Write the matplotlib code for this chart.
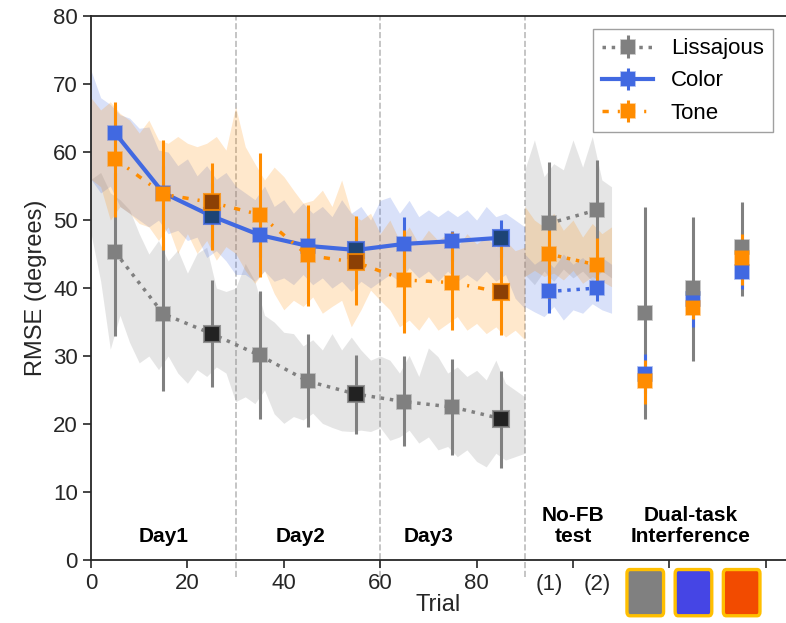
import matplotlib
matplotlib.use("Agg")
import matplotlib.pyplot as plt
from matplotlib.colors import to_rgba
from matplotlib.patches import FancyBboxPatch
import numpy as np

plt.rcParams["font.family"] = ["Liberation Sans", "DejaVu Sans"]

# ---- data ----
series = ["Lissajous", "Color", "Tone"]
colors = {"Lissajous": "gray", "Color": "royalblue", "Tone": "darkorange"}
dark = {"Lissajous": "#222222", "Color": "#1d4476", "Tone": "#8c4005"}
styles = {"Lissajous": ":", "Color": "-", "Tone": (0, (1.8, 2.6, 0.6, 2.6))}

# training blocks (3 days x 3 blocks)
block_x = [5, 15, 25, 35, 45, 55, 65, 75, 85]
mean = {
    "Lissajous": [45.3, 36.2, 33.3, 30.1, 26.3, 24.4, 23.3, 22.5, 20.8],
    "Color": [62.8, 54.0, 50.6, 47.8, 46.2, 45.6, 46.5, 46.9, 47.4],
    "Tone": [59.0, 53.8, 52.6, 50.8, 44.8, 43.8, 41.2, 40.8, 39.4],
}
low = {
    "Lissajous": [33.0, 24.8, 25.5, 20.8, 19.5, 18.5, 16.8, 15.5, 13.5],
    "Color": [57.5, 50.0, 45.8, 44.5, 43.0, 42.5, 43.0, 44.0, 44.5],
    "Tone": [50.5, 45.6, 45.6, 41.7, 37.3, 37.5, 33.4, 33.8, 33.1],
}
high = {
    "Lissajous": [57.0, 47.5, 41.2, 39.5, 33.2, 30.2, 30.0, 29.5, 27.8],
    "Color": [67.0, 58.0, 55.5, 51.0, 49.5, 49.0, 50.4, 48.4, 50.0],
    "Tone": [67.4, 61.8, 58.4, 59.8, 52.2, 50.6, 48.6, 48.2, 47.8],
}
day_end_idx = [2, 5, 8]

# no-feedback test
nofb_x = [95, 105]
nofb_mean = {"Lissajous": [49.5, 51.5], "Color": [39.5, 40.0], "Tone": [45.0, 43.4]}
nofb_low = {"Lissajous": [40.0, 41.0], "Color": [36.4, 38.1], "Tone": [38.5, 40.5]}
nofb_high = {"Lissajous": [58.5, 58.8], "Color": [42.5, 42.5], "Tone": [48.6, 47.3]}

# dual-task interference
dual_x = [115, 125, 135]
dual_mean = {"Lissajous": [36.4, 40.0, 46.0], "Color": [27.4, 38.4, 42.3], "Tone": [26.3, 37.0, 44.4]}
dual_low = {"Lissajous": [20.8, 29.3, 38.8], "Color": [24.5, 34.3, 39.8], "Tone": [23.0, 35.5, 40.4]}
dual_high = {"Lissajous": [51.9, 50.5, 52.6], "Color": [30.3, 41.0, 44.0], "Tone": [29.4, 39.5, 48.0]}
dual_box_colors = ["#808080", "#4545e5", "#f24b00"]

# per-trial spread (shaded bands)
trial_x = list(range(0, 91, 2))
band_low = {
    "Lissajous": [48, 41, 31, 36, 32, 29, 30, 28, 30, 27.5, 26, 28, 27, 28.4, 27.5, 23.3,
                  24, 23, 25, 21.5, 20.1, 21.1, 20.6, 21.6, 20.1, 19.5, 19, 18.9, 19.1, 18.9,
                  19.5, 17.6, 18.1, 19.1, 17.2, 18.1, 16.2, 16.7, 15.2, 16.2, 14.5, 13.7, 15.7,
                  14.7, 15.2, 15.7],
    "Color": [56, 54, 55, 52, 51, 50, 49, 50, 48, 48.5, 47, 47.5, 44.5, 45.5, 44, 42,
              42, 41, 42.5, 41, 41.5, 40.5, 42, 40.5, 41.5, 40, 41, 39.5, 41, 40,
              41, 42, 41, 43, 41.5, 42.5, 41, 42.5, 41, 42, 41, 42.5, 41, 42, 38.5, 37],
    "Tone": [56, 54.9, 50, 52, 51, 49.5, 49, 47, 49, 45.1, 48, 45.1, 47, 44.1, 46.1, 45.1,
             42.6, 40.7, 42.6, 39.2, 36.8, 38.2, 37.3, 38.7, 36.3, 37.3, 38.2, 34.3, 36.8, 39.7,
             38.2, 36.8, 34.3, 35.3, 33.8, 35.8, 33.8, 34.8, 35.8, 33.8, 34.8, 33.3, 34.3, 32.8,
             33.8, 32.4],
}
band_high = {
    "Lissajous": [56, 57, 54, 53, 51.5, 48, 45, 47, 44, 45.6, 42.2, 45.1, 46, 40, 39.5, 40,
                  43.6, 41, 36, 35, 33.5, 33.3, 31.5, 32.4, 30.9, 33.3, 30.9, 32.8, 30.9, 29.4,
                  30, 29.4, 27.5, 30.1, 27, 31.2, 29.9, 27.5, 28.4, 27, 27.9, 26.5, 29.4, 26,
                  25, 24],
    "Color": [72, 68, 67, 65.5, 65, 63.5, 63.7, 60.3, 60, 58, 59, 56.5, 58, 56, 57, 55,
              54, 53, 55, 52, 53, 51, 52.5, 51, 52, 50.5, 53, 51, 52, 50,
              52.9, 53.4, 51, 52.9, 50.5, 51.5, 50.5, 51.5, 50.5, 51.5, 50, 52, 50.5, 51, 50, 49],
    "Tone": [68, 66.2, 67.4, 65.7, 64.7, 62.8, 64.7, 61.8, 61.3, 62.3, 61.3, 60.8, 61.3, 62.3,
             60.3, 66.7, 60.8, 58.3, 55.9, 57.8, 56.4, 54.4, 52.5, 52.9, 54.4, 52, 55.9, 51,
             50, 51, 48, 50, 47, 49, 46.5, 48.5, 47, 48, 46, 48, 46.5, 47.5, 46, 47, 45.5, 46],
}
nofb_trial_x = [90, 92, 94, 96, 98, 100, 102, 104, 106, 108]
nofb_band_low = {
    "Lissajous": [42, 40.5, 42.5, 41, 42.8, 41.5, 42.5, 41, 42.5, 41.5],
    "Color": [37.3, 36.5, 35.8, 37.3, 35.3, 36.8, 36.3, 37.7, 36.8, 36.3],
    "Tone": [41.7, 42.6, 41.7, 42.2, 41.2, 42.6, 40.7, 41.7, 41.0, 40.2],
}
nofb_band_high = {
    "Lissajous": [57.4, 61.8, 56.4, 58.3, 57.4, 61.8, 57.8, 62.3, 55.9, 54.9],
    "Color": [45, 43.5, 44.5, 43, 45, 43.5, 44.5, 43, 44.5, 43.5],
    "Tone": [52, 50, 49, 51, 48.5, 50, 47.5, 49.5, 48, 49],
}

day_labels = ["Day1", "Day2", "Day3"]
day_label_x = [15, 43.5, 70]
section_breaks = [30, 60, 90]


def yerr(m, lo, hi):
    m = np.asarray(m)
    return [m - np.asarray(lo), np.asarray(hi) - m]


fig = plt.figure(figsize=(7.86, 6.23), dpi=100)
ax = fig.add_axes([0.1158, 0.1011, 0.8842, 0.873])

# shaded bands
for s in series:
    ax.fill_between(trial_x, band_low[s], band_high[s], color=colors[s],
                    alpha=0.2, lw=0, zorder=1)
    ax.fill_between(nofb_trial_x, nofb_band_low[s], nofb_band_high[s],
                    color=colors[s], alpha=0.2, lw=0, zorder=1)

# training blocks
for s in series:
    c = colors[s]
    ax.errorbar(block_x, mean[s], yerr=yerr(mean[s], low[s], high[s]),
                fmt="s", ls=styles[s], color=c, lw=2.5 if s != "Color" else 3,
                elinewidth=2.2, capsize=0, ms=10, mec=to_rgba(c, 0.5), mew=1.2,
                label=s, zorder=3)
    # end-of-day blocks highlighted
    ax.plot([block_x[i] for i in day_end_idx], [mean[s][i] for i in day_end_idx],
            "s", ms=11, mfc=dark[s], mec=to_rgba(c, 0.8), mew=1.5, zorder=4)

# no-feedback test
for s in series:
    c = colors[s]
    ax.errorbar(nofb_x, nofb_mean[s], yerr=yerr(nofb_mean[s], nofb_low[s], nofb_high[s]),
                fmt="s", ls=":", color=c, lw=2.5, elinewidth=2.2, capsize=0, ms=10,
                mec=to_rgba(c, 0.5), mew=1.2, zorder=3)

# dual-task interference: bars first, then markers
for s in series:
    ax.errorbar(dual_x, dual_mean[s], yerr=yerr(dual_mean[s], dual_low[s], dual_high[s]),
                fmt="none", ecolor=colors[s], elinewidth=2.2, capsize=0, zorder=3)
for s in ["Color", "Lissajous", "Tone"]:
    c = colors[s]
    ax.plot(dual_x, dual_mean[s], "s", color=c, ms=10, mec=to_rgba(c, 0.5),
            mew=1.2, zorder=4)

# section separators
for xb in section_breaks:
    ax.axvline(xb, ymin=-0.032, ymax=1, color="#bbbbbb", ls="--", lw=1.2,
               clip_on=False, zorder=0)

# section labels
for lab, xl in zip(day_labels, day_label_x):
    ax.text(xl, 2.0, lab, ha="center", va="bottom", fontsize=15, fontweight="bold")
ax.text(100, 2.0, "No-FB\ntest", ha="center", va="bottom", fontsize=15,
        fontweight="bold", linespacing=1.15)
ax.text(124.5, 2.0, "Dual-task\nInterference", ha="center", va="bottom", fontsize=15,
        fontweight="bold", linespacing=1.15)

# (1)/(2) under the no-FB blocks
trans = ax.get_xaxis_transform()
for i, xv in enumerate(nofb_x):
    ax.text(xv, -0.025, f"({i + 1})", transform=trans, ha="center", va="top",
            fontsize=16, color="#262626")

# task icons under the dual-task blocks
for xv, fc in zip(dual_x, dual_box_colors):
    box = FancyBboxPatch((xv - 3.8, -8.2), 7.6, 6.8,
                         boxstyle="round,pad=0,rounding_size=0.6",
                         fc=fc, ec="#ffbf00", lw=2.4, clip_on=False, zorder=5)
    ax.add_patch(box)

# axes styling
ax.set_xlim(0, 144.2)
ax.set_ylim(0, 80)
ax.set_xticks([0, 20, 40, 60, 80, 100, 120, 140])
ax.set_xticklabels(["0", "20", "40", "60", "80", "", "", ""])
ax.set_yticks(range(0, 81, 10))
ax.tick_params(labelsize=16, length=6, width=1.2, colors="#262626")
for side in ["left", "bottom", "top"]:
    ax.spines[side].set_linewidth(1.3)
    ax.spines[side].set_color("#262626")
ax.spines["right"].set_visible(False)
ax.set_xlabel("Trial", fontsize=17, labelpad=0, color="#262626")
ax.set_ylabel("RMSE (degrees)", fontsize=17, labelpad=4, color="#262626")

leg = ax.legend(loc="upper right", fontsize=16, fancybox=False, edgecolor="#888888",
                handlelength=2.3, borderaxespad=0.6)
leg.get_frame().set_linewidth(1.0)

fig.savefig("out.png", dpi=100)
